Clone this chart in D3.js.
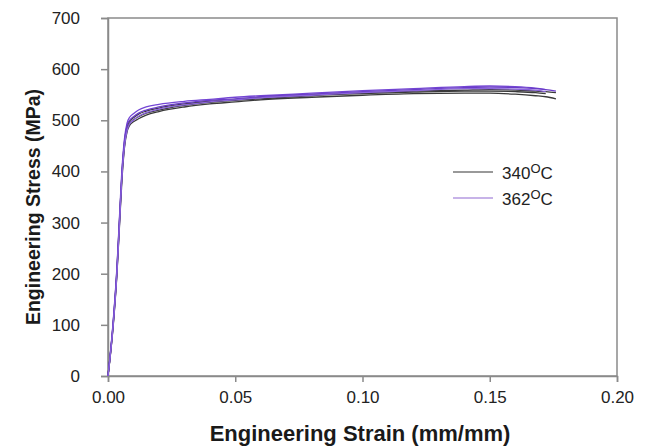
<!DOCTYPE html>
<html>
<head>
<meta charset="utf-8">
<script src="https://cdn.jsdelivr.net/npm/d3@7"></script>
<style>
  body { margin: 0; background: #fff; }
  text { font-family: "Liberation Sans", Arial, sans-serif; }
</style>
</head>
<body>
<svg width="649" height="446"></svg>
<script>
// strain grid (mm/mm) shared by all the tests
var strain = [0, 0.002, 0.0035, 0.0045, 0.0055, 0.0065, 0.0075, 0.0085, 0.010, 0.012, 0.015, 0.020,
              0.030, 0.040, 0.050, 0.060, 0.080, 0.100, 0.120, 0.140, 0.150, 0.160, 0.168, 0.172, 0.176];

// stress (MPa), null = specimen already broken
var s340a = [0, 95, 198, 292, 385, 448, 478, 490, 497, 503, 510, 517, 526, 532, 536, 540, 545, 549, 552, 553, 553, 551, 548, 546, 542];
var s340b = [0, 102, 208, 305, 398, 458, 488, 498, 505, 512, 518, 524, 532, 537, 541, 545, 550, 554, 557, 559, 560, 559, 557, 556, 554];
var s340c = [0, 98, 202, 298, 392, 452, 482, 494, 501, 507, 514, 520, 529, 535, 539, 542, 548, 552, 555, 557, 557, 556, 554, 552, null];
var s362a = [0, 105, 212, 310, 405, 465, 495, 506, 513, 520, 526, 531, 537, 541, 545, 548, 553, 558, 562, 566, 567, 566, 563, 560, null];
var s362b = [0, 100, 205, 302, 398, 460, 490, 500, 507, 514, 520, 526, 534, 539, 542, 546, 551, 556, 560, 564, 565, 564, 562, 560, 557];
var s362c = [0, 97, 200, 295, 390, 450, 480, 493, 500, 508, 515, 522, 530, 536, 540, 544, 549, 554, 558, 562, 562, 561, 559, 556, null];

var xTicks = [0, 0.05, 0.10, 0.15, 0.20];
var yTicks = [0, 100, 200, 300, 400, 500, 600, 700];
var legendLabels = ["340", "362"];

var svg = d3.select("svg"),
    margin = {top: 18, right: 32, bottom: 70, left: 108},
    width = +svg.attr("width") - margin.left - margin.right,
    height = +svg.attr("height") - margin.top - margin.bottom;

var x = d3.scaleLinear().domain([0, 0.20]).range([0, width]),
    y = d3.scaleLinear().domain([0, 700]).range([height, 0]);

var g = svg.append("g")
    .attr("transform", "translate(" + margin.left + "," + margin.top + ")");

// frame
g.append("rect")
    .attr("width", width).attr("height", height)
    .attr("fill", "none").attr("stroke", "#8a8a8a").attr("stroke-width", 1.5);

var xAxis = g.append("g")
    .attr("transform", "translate(0," + height + ")")
    .call(d3.axisBottom(x).tickValues(xTicks).tickSize(6).tickPadding(9).tickFormat(d3.format(".2f")));

var yAxis = g.append("g")
    .call(d3.axisLeft(y).tickValues(yTicks).tickSize(7).tickPadding(21));

[xAxis, yAxis].forEach(function(a) {
    a.select(".domain").attr("stroke", "#8a8a8a").attr("stroke-width", 1.5);
    a.selectAll(".tick line").attr("stroke", "#8a8a8a").attr("stroke-width", 1.5);
    a.selectAll(".tick text").attr("fill", "#222").style("font-size", "17px");
});

var series = [
    {vals: s340a, color: "#3a3a3a"},
    {vals: s340b, color: "#3a3a3a"},
    {vals: s340c, color: "#3a3a3a"},
    {vals: s362a, color: "#7446d4"},
    {vals: s362b, color: "#6a3cc8"},
    {vals: s362c, color: "#8a62dc"}
];

var line = d3.line()
    .defined(function(d) { return d[1] != null; })
    .x(function(d) { return x(d[0]); })
    .y(function(d) { return y(d[1]); })
    .curve(d3.curveMonotoneX);

g.selectAll(".curve")
    .data(series)
  .enter().append("path")
    .attr("class", "curve")
    .attr("fill", "none")
    .attr("stroke", function(d) { return d.color; })
    .attr("stroke-width", 1.3)
    .attr("d", function(d) { return line(strain.map(function(s, i) { return [s, d.vals[i]]; })); });

// legend
var legendColors = ["#777", "#b49ae0"];
var lg = svg.append("g").attr("transform", "translate(453,172)");
legendLabels.forEach(function(t, i) {
    var row = lg.append("g").attr("transform", "translate(0," + (i * 26) + ")");
    row.append("line").attr("x1", 0).attr("x2", 40)
        .attr("stroke", legendColors[i]).attr("stroke-width", 1.5);
    var txt = row.append("text").attr("x", 49).attr("y", 7)
        .attr("fill", "#222").style("font-size", "17px");
    txt.append("tspan").text(t);
    txt.append("tspan").attr("dy", -6).style("font-size", "13px").text("O");
    txt.append("tspan").attr("dy", 6).text("C");
});

// axis titles
svg.append("text")
    .attr("x", 360).attr("y", 441)
    .attr("text-anchor", "middle")
    .style("font-size", "22px").style("font-weight", "bold").attr("fill", "#1a1a1a")
    .text("Engineering Strain (mm/mm)");

svg.append("text")
    .attr("transform", "translate(40,207) rotate(-90)")
    .attr("text-anchor", "middle")
    .style("font-size", "19.5px").style("font-weight", "bold").attr("fill", "#1a1a1a")
    .text("Engineering Stress (MPa)");
</script>
</body>
</html>
